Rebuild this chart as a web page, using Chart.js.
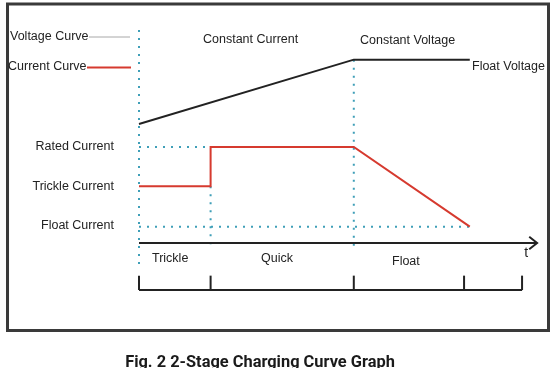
<!DOCTYPE html>
<html>
<head>
<meta charset="utf-8">
<script src="https://cdn.jsdelivr.net/npm/chart.js@4.4.0/dist/chart.umd.min.js"></script>
<style>
  html, body { margin: 0; padding: 0; background: #fff; }
  #wrap { width: 554px; height: 368px; }
</style>
</head>
<body>
<div id="wrap"><canvas id="chart" width="554" height="368"></canvas></div>
<script>
// time axis (stage boundaries), in stage units
const stageTimes = [0, 1, 3, 4.62];
const stageNames = ['Trickle', 'Quick', 'Float'];
const bracketTicks = [0, 1, 3, 4.54, 5.35];
const axisEnd = 5.56;

// levels (rated current = 1)
const voltageTimes = [0, 3, 4.62];
const voltageLevels = [1.24, 1.91, 1.91];
const currentTimes = [0, 1, 1, 3, 4.62];
const currentLevels = [0.59, 0.59, 1.0, 1.0, 0.17];
const ratedLevel = 1.0;
const trickleLevel = 0.59;
const floatLevel = 0.17;
const dottedTops = [2.22, 0.59, 1.91];
const dottedBottoms = [-0.24, -0.07, -0.05];
const bracketY = -0.49;
const bracketTickTop = -0.34;

const teal = '#3f9fb8';
const dark = '#222222';
const red = '#d63a2f';

function pts(xs, ys) {
  return xs.map((x, i) => ({ x: x, y: ys[i] }));
}

const datasets = [];
// solid curves
datasets.push({ data: pts(voltageTimes, voltageLevels), borderColor: dark, borderWidth: 2, order: 0 });
datasets.push({ data: pts(currentTimes, currentLevels), borderColor: red, borderWidth: 2, order: 0 });
// time axis and arrow head
datasets.push({ data: pts([0, axisEnd], [0, 0]), borderColor: dark, borderWidth: 2, order: 0 });
datasets.push({ data: pts([axisEnd - 0.11, axisEnd, axisEnd - 0.11], [0.065, 0, -0.065]), borderColor: dark, borderWidth: 2, order: 0 });
// stage bracket
datasets.push({ data: pts([bracketTicks[0], bracketTicks[bracketTicks.length - 1]], [bracketY, bracketY]), borderColor: dark, borderWidth: 2, order: 0 });
bracketTicks.forEach(t => {
  datasets.push({ data: pts([t, t], [bracketY, bracketTickTop]), borderColor: dark, borderWidth: 2, order: 0 });
});
// dotted guide lines
[stageTimes[0], stageTimes[1], stageTimes[2]].forEach((t, i) => {
  datasets.push({ data: pts([t, t], [dottedTops[i], dottedBottoms[i]]), borderColor: teal, borderWidth: 2, borderDash: [2, 6], order: 1 });
});
datasets.push({ data: pts([0, stageTimes[1]], [ratedLevel, ratedLevel]), borderColor: teal, borderWidth: 2, borderDash: [2, 6], order: 1 });
datasets.push({ data: pts([0, stageTimes[3]], [floatLevel, floatLevel]), borderColor: teal, borderWidth: 2, borderDash: [2, 6], order: 1 });

datasets.forEach(d => { d.showLine = true; d.pointRadius = 0; d.fill = false; });

const textFont = '12.5px "Liberation Sans", Arial, sans-serif';

// border, legend lines and all texts
const diagramPlugin = {
  id: 'diagram',
  beforeDraw(chart) {
    const ctx = chart.ctx;
    ctx.save();
    ctx.fillStyle = '#fff';
    ctx.fillRect(0, 0, chart.width, chart.height);
    ctx.restore();
  },
  afterDraw(chart) {
    const ctx = chart.ctx;
    const xs = chart.scales.x, ys = chart.scales.y;
    ctx.save();
    // frame
    ctx.strokeStyle = '#3a3a3a';
    ctx.lineWidth = 3;
    ctx.strokeRect(7.5, 4, 541, 326.5);

    // legend lines
    ctx.lineWidth = 1;
    ctx.strokeStyle = '#a8a8a8';
    ctx.beginPath(); ctx.moveTo(89, 37); ctx.lineTo(130, 37); ctx.stroke();
    ctx.lineWidth = 2;
    ctx.strokeStyle = red;
    ctx.beginPath(); ctx.moveTo(87, 67.5); ctx.lineTo(131, 67.5); ctx.stroke();

    ctx.fillStyle = dark;
    ctx.font = textFont;
    ctx.textBaseline = 'middle';
    ctx.textAlign = 'left';
    ctx.fillText('Voltage Curve', 10, 37);
    ctx.fillText('Current Curve', 8, 67);
    ctx.fillText('Constant Current', 203, 40);
    ctx.fillText('Constant Voltage', 360, 41);
    ctx.fillText('Float Voltage', 472, 67);

    ctx.textAlign = 'right';
    ctx.fillText('Rated Current', 114, ys.getPixelForValue(ratedLevel));
    ctx.fillText('Trickle Current', 114, ys.getPixelForValue(trickleLevel));
    ctx.fillText('Float Current', 114, ys.getPixelForValue(floatLevel) - 1.5);

    // stage names under the axis
    ctx.textAlign = 'left';
    ctx.fillText(stageNames[0], 152, 259);
    ctx.fillText(stageNames[1], 261, 259);
    ctx.fillText(stageNames[2], 392, 262);

    ctx.font = '14px "Liberation Sans", Arial, sans-serif';
    ctx.textAlign = 'center';
    ctx.fillText('t', xs.getPixelForValue(axisEnd) - 11, 253);

    // caption
    ctx.font = 'bold 16.4px Roboto, sans-serif';
    ctx.fillStyle = '#1a1a1a';
    ctx.textBaseline = 'alphabetic';
    ctx.fillText('Fig. 2 2-Stage Charging Curve Graph', 260, 366.5);
    ctx.restore();
  }
};

const xPerUnit = 71.6;
const yPerUnit = 96;

new Chart(document.getElementById('chart'), {
  type: 'scatter',
  data: { datasets: datasets },
  options: {
    responsive: false,
    animation: false,
    layout: { padding: 0 },
    plugins: { legend: { display: false }, tooltip: { enabled: false } },
    elements: { line: { borderCapStyle: 'butt', tension: 0 } },
    scales: {
      x: { type: 'linear', display: false, min: -139 / xPerUnit, max: (554 - 139) / xPerUnit },
      y: { type: 'linear', display: false, min: -(368 - 243) / yPerUnit, max: 243 / yPerUnit }
    }
  },
  plugins: [diagramPlugin]
});
</script>
</body>
</html>
